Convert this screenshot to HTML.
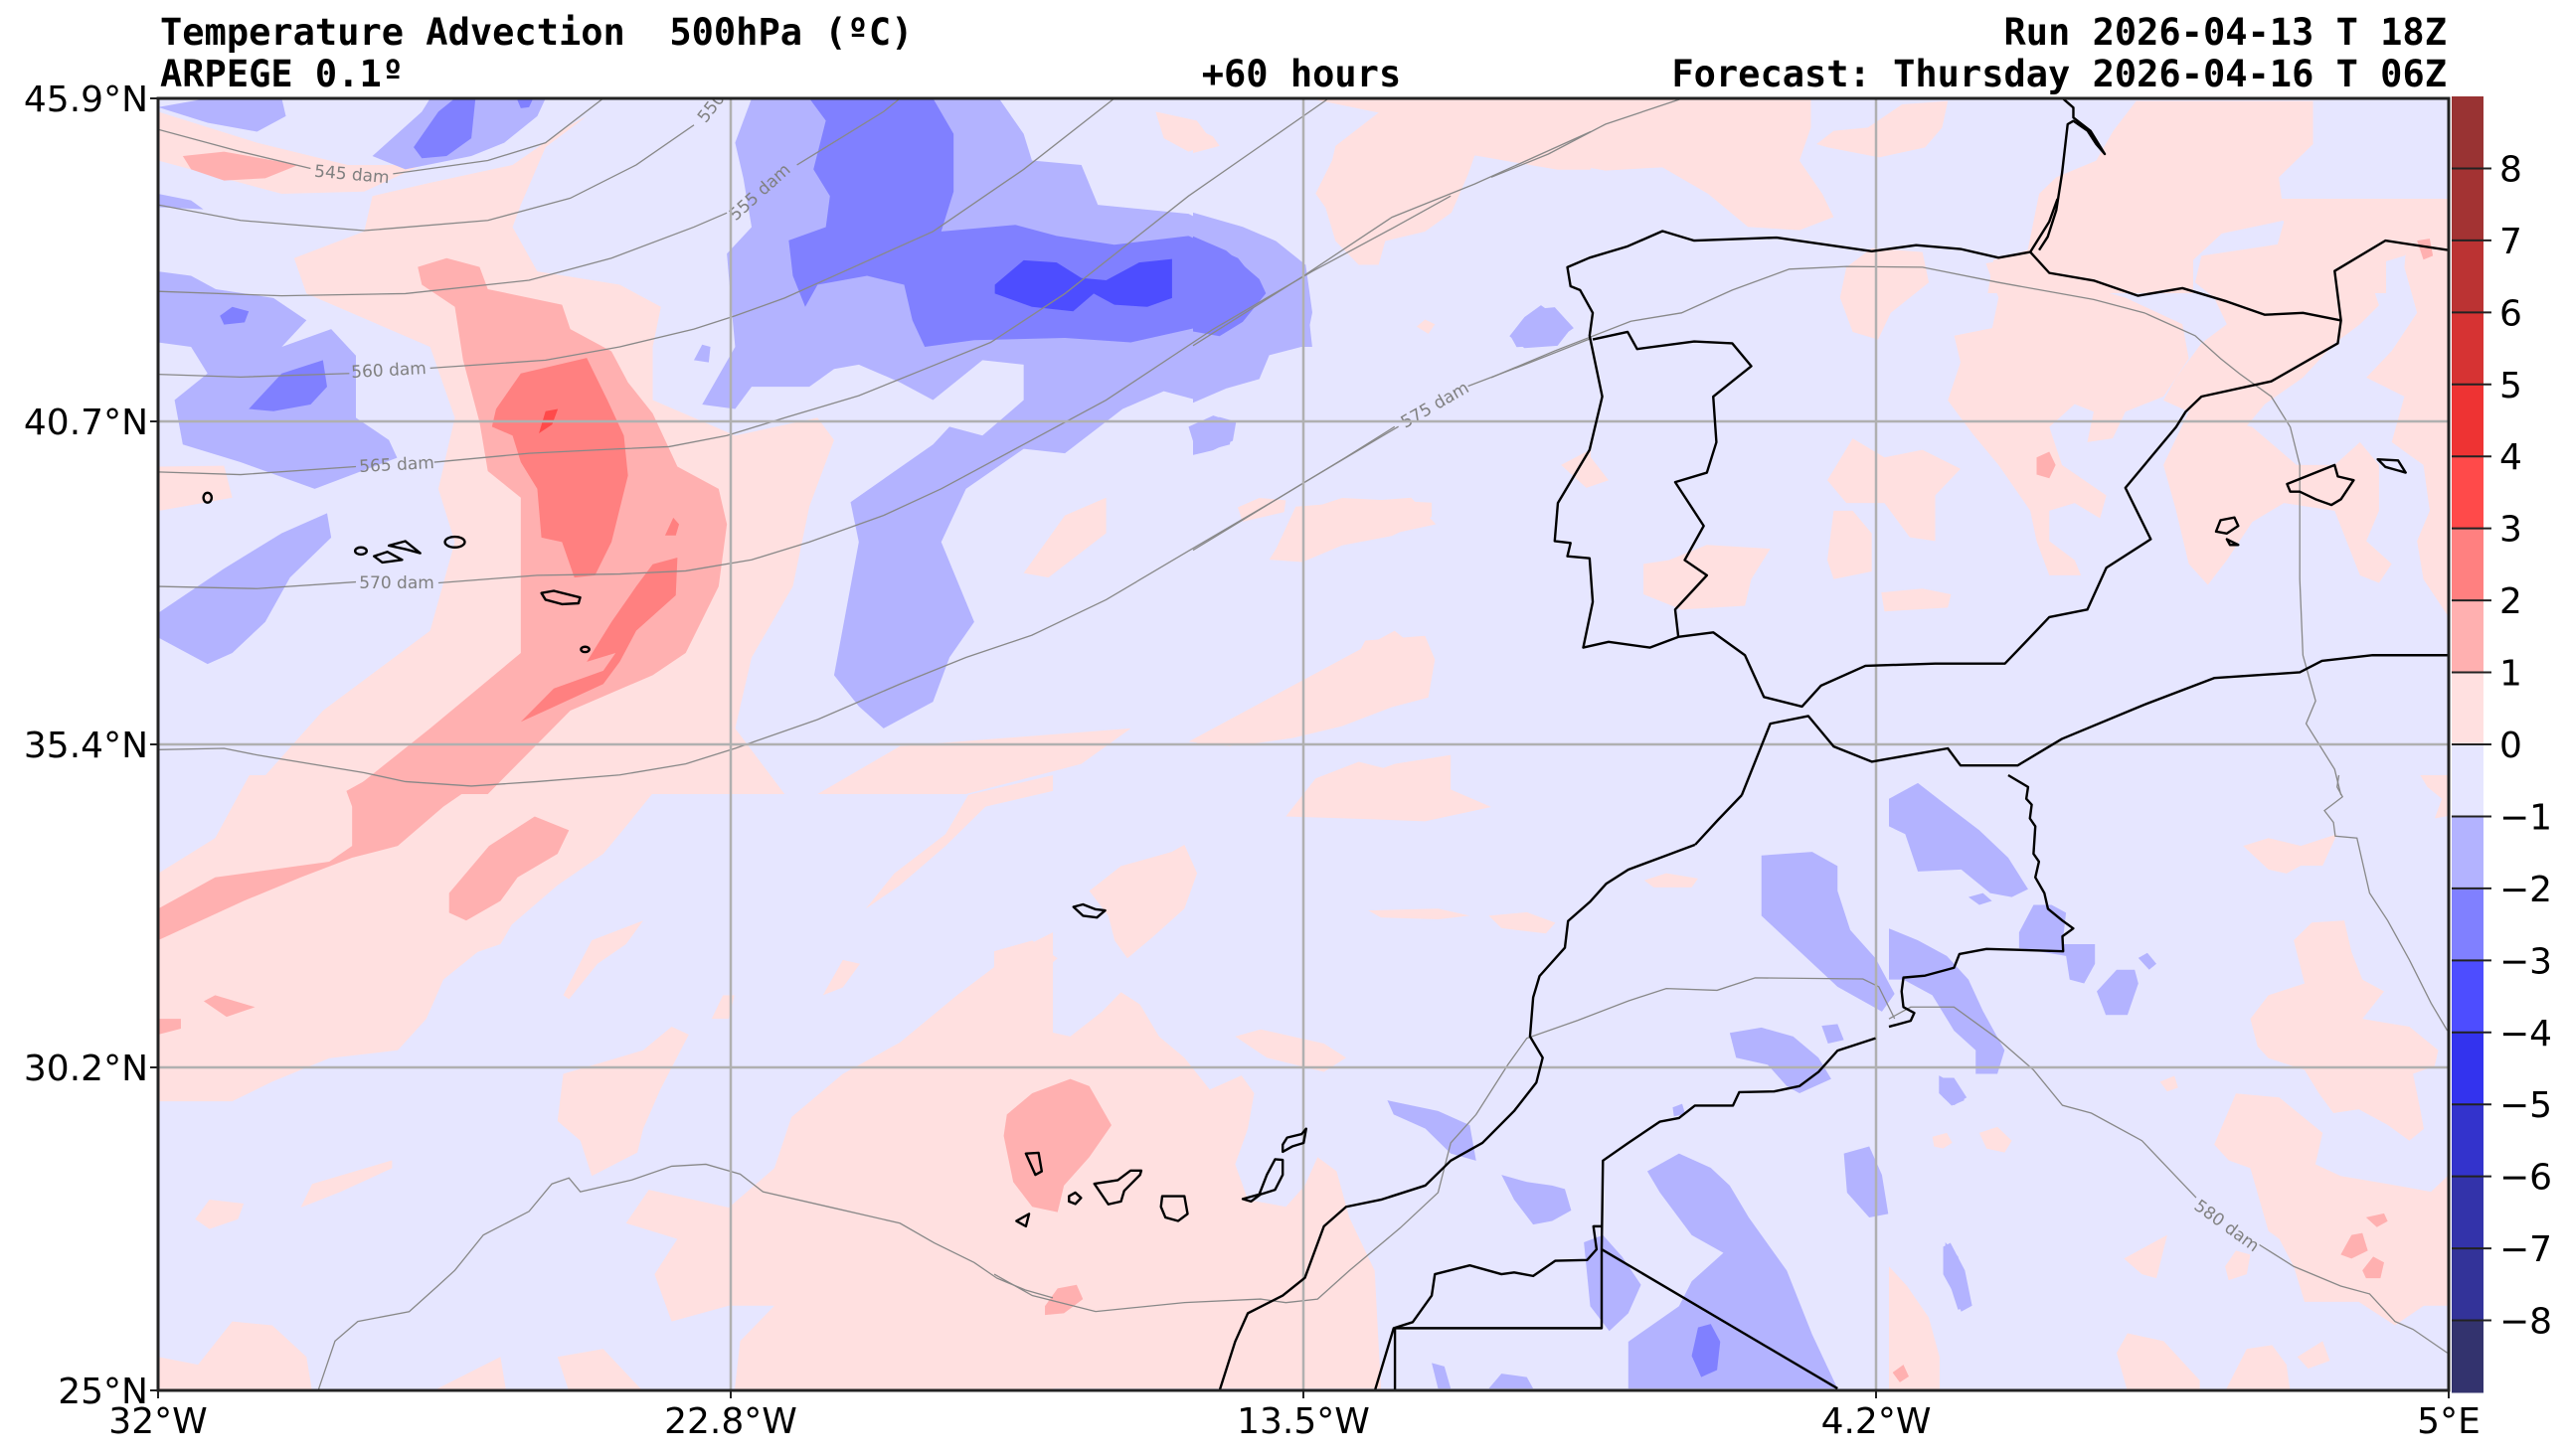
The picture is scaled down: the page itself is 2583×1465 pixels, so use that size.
<!DOCTYPE html>
<html><head><meta charset="utf-8"><style>
html,body{margin:0;padding:0;background:#fff;}
svg{display:block;}
.p1{fill:#ffe0e0}.p2{fill:#ffb0b0}.p3{fill:#ff8080}.p4{fill:#ff4a4a}
.n1{fill:#b3b3ff}.n2{fill:#8080ff}.n3{fill:#4d4dff}
.cl{fill:none;stroke:#888;stroke-width:1.3}
.cs{fill:none;stroke:#000;stroke-width:2.4;stroke-linejoin:round}
.isl{fill:none;stroke:#000;stroke-width:2.4;stroke-linejoin:round}
.lab{font-family:"DejaVu Sans","Liberation Sans",sans-serif;font-size:17px;fill:#808080}
text{font-family:"DejaVu Sans","Liberation Sans",sans-serif}
.tt{white-space:pre}
</style></head><body>
<svg id="chart" width="2583" height="1465" viewBox="0 0 2583 1465" xmlns="http://www.w3.org/2000/svg">
<defs><clipPath id="pc"><rect x="159" y="99" width="2304" height="1300"/></clipPath></defs>
<g id="titles" font-weight="bold" font-size="37">
<text class="tt" x="161" y="45" style="font-family:'DejaVu Sans Mono','Liberation Mono',monospace">Temperature Advection &#160;500hPa (ºC)</text>
<text x="161" y="87" style="font-family:'DejaVu Sans Mono','Liberation Mono',monospace">ARPEGE 0.1º</text>
<text x="1309" y="87" text-anchor="middle" style="font-family:'DejaVu Sans Mono','Liberation Mono',monospace">+60 hours</text>
<text x="2461" y="45" text-anchor="end" style="font-family:'DejaVu Sans Mono','Liberation Mono',monospace">Run 2026-04-13 T 18Z</text>
<text x="2461" y="87" text-anchor="end" style="font-family:'DejaVu Sans Mono','Liberation Mono',monospace">Forecast: Thursday 2026-04-16 T 06Z</text>
</g>
<g clip-path="url(#pc)">
<rect x="159" y="99" width="2304" height="1300" fill="#e6e6ff"/>
<g>
<g transform="translate(159,99) scale(0.8292,0.4464)" class="p1">
<polygon points="110,1568 200,1380 330,1200 360,1000 340,880 360,720 330,560 180,440 165,360 250,300 260,220 330,190 430,150 500,60 520,40 470,110 440,240 430,290 460,390 560,420 610,470 600,560 600,680 700,760 800,720 820,770 790,920 770,1100 720,1260 700,1420 760,1568"/>
<polygon points="0,30 120,100 230,150 320,150 250,210 150,215 60,170 0,140"/>
<polygon points="0,830 80,828 90,900 0,930"/>
<polygon points="1210,30 1260,50 1280,100 1250,120 1220,90"/>
<polygon points="1050,1070 1100,940 1150,900 1150,980 1080,1080"/>
<polygon points="1350,1040 1380,920 1520,900 1550,960 1450,1000"/>
<polygon points="1250,1450 1400,1300 1500,1200 1540,1260 1450,1400 1300,1460"/>
<polygon points="800,1568 900,1460 1180,1420 1120,1500 980,1568"/>
<polygon points="1400,1568 1500,1500 1568,1480 1568,1568"/>
</g>
<g transform="translate(159,780) scale(0.5740,0.3954)" class="p1">
<polygon points="0,250 100,160 160,0 920,0 870,40 820,130 780,200 700,280 620,380 600,430 560,450 500,520 470,620 420,700 300,720 200,780 130,830 0,830"/>
<polygon points="820,1140 860,1055 1000,1100 1080,1000 1110,870 1200,760 1300,680 1400,560 1500,450 1568,400 1568,1568 1010,1568 1020,1440 1080,1350 1000,1350 900,1390 870,1270 910,1180"/>
<polygon points="700,880 710,760 850,700 900,640 930,660 880,800 850,900 840,960 760,1020 740,930"/>
<polygon points="250,1100 270,1040 410,980 410,1000 320,1060"/>
<polygon points="65,1130 90,1080 150,1090 140,1130 90,1155"/>
<polygon points="0,1480 70,1500 130,1390 200,1400 260,1480 270,1568 0,1568"/>
<polygon points="1240,340 1290,250 1380,150 1420,50 1568,0 1568,40 1450,80 1380,180 1300,280"/>
<polygon points="1165,560 1200,470 1230,480 1200,540"/>
<polygon points="710,560 760,420 850,370 820,430 770,480 720,570"/>
<polygon points="480,1568 600,1480 610,1568"/>
<polygon points="700,1480 780,1460 850,1568 720,1568"/>
<polygon points="970,620 990,560 1010,560 1000,620"/>
</g>
<g transform="translate(1000,850) scale(0.6378,0.3571)" class="p1">
<polygon points="0,650 30,560 70,520 120,540 170,470 200,415 230,450 260,540 300,600 340,690 390,650 410,700 400,800 380,900 400,1000 460,1020 490,960 510,880 540,920 560,1050 600,1200 610,1532 0,1532"/>
<polygon points="0,300 60,270 100,320 60,380 0,420"/>
<polygon points="150,130 200,60 280,20 300,0 320,80 300,180 250,260 210,320 190,270 180,200"/>
<polygon points="380,540 420,520 520,560 555,600 520,640 430,600"/>
<polygon points="590,185 700,180 750,200 700,210 610,205"/>
<polygon points="780,200 840,190 885,220 870,250 800,235"/>
<polygon points="1025,100 1060,80 1110,95 1100,120 1040,120"/>
</g>
<g transform="translate(1200,99) scale(0.3333,0.4785)" class="p1">
<polygon points="370,200 420,130 430,100 560,30 350,0 1200,0 1200,150 1100,150 850,120 830,160 780,240 700,280 580,300 560,350 500,350 430,300 400,230"/>
<polygon points="0,60 60,80 80,100 0,115"/>
<polygon points="230,970 320,870 450,840 720,850 720,880 600,920 450,940 330,975"/>
<polygon points="135,860 200,840 280,845 275,870 150,890"/>
<polygon points="0,1360 120,1310 300,1270 450,1230 520,1140 700,1130 730,1180 710,1260 600,1280 450,1320 300,1345 150,1360"/>
<polygon points="280,1510 370,1430 500,1395 700,1430 900,1490 700,1520 500,1515"/>
<polygon points="675,480 700,465 730,475 710,495"/>
<polygon points="1115,770 1200,740 1200,800 1140,790"/>
</g>
<g transform="translate(1500,95) scale(0.5740,0.3333)" class="p1">
<polygon points="0,0 560,0 560,100 540,200 580,300 600,370 540,410 450,400 380,300 300,220 200,230 100,200 0,190"/>
<polygon points="570,150 600,110 660,100 720,30 800,20 790,100 760,160 680,190 590,160"/>
<polygon points="940,470 960,300 990,250 1060,200 1090,110 1130,20 1440,20 1440,150 1380,250 1390,380 1280,420 1230,500 1230,600 870,600 880,500"/>
<polygon points="1520,400 1568,380 1568,600 1500,600 1480,550 1520,470"/>
</g>
<g transform="translate(1500,200) scale(0.6378,0.3827)" class="p1">
<polygon points="560,180 600,130 680,140 690,220 630,300 610,370 570,350 550,260"/>
<polygon points="780,170 850,150 870,200 1000,260 1090,330 1100,420 1060,520 1000,560 980,630 940,640 950,560 920,540 880,600 900,700 970,780 960,840 920,800 880,820 880,900 920,950 930,990 880,990 860,900 850,820 800,700 760,620 720,530 740,430 730,360 790,340 800,260"/>
<polygon points="840,0 1210,0 1250,60 1240,120 1120,150 1110,220 1140,260 1160,330 1120,380 1080,470 1060,530 1100,560 1190,600 1220,540 1280,470 1330,380 1370,330 1400,280 1380,180 1440,150 1480,80 1510,0"/>
<polygon points="1060,700 1100,560 1200,600 1270,700 1330,700 1370,640 1400,700 1400,820 1380,900 1420,960 1400,1010 1370,990 1330,820 1250,800 1200,850 1160,950 1130,1015 1100,960 1080,820"/>
<polygon points="1450,0 1568,0 1568,1100 1510,1100 1470,1000 1460,900 1480,820 1470,700 1420,640 1440,520 1380,470 1420,400 1460,300 1440,180"/>
<polygon points="530,740 570,630 620,680 680,660 740,710 700,780 700,900 660,890 620,800 560,800"/>
<polygon points="240,960 280,950 340,910 440,920 410,1000 400,1070 300,1080 240,1040"/>
<polygon points="110,700 150,665 185,740 150,760"/>
<polygon points="540,820 570,820 600,880 600,980 540,1000 530,950"/>
<polygon points="615,1035 680,1025 725,1040 720,1075 620,1085"/>
</g>
<g transform="translate(1900,780) scale(0.3635,0.3954)" class="p1">
<polygon points="1000,620 1050,560 1150,530 1120,420 1170,375 1260,370 1280,450 1310,520 1370,550 1310,620 1440,640 1520,700 1510,740 1450,760 1470,850 1480,900 1440,930 1380,890 1300,850 1230,860 1190,810 1150,750 1050,720 1020,690"/>
<polygon points="980,180 1050,160 1140,180 1240,150 1200,230 1140,230 1100,250 1050,240"/>
<polygon points="900,940 960,810 1080,820 1200,910 1180,990 1250,1020 1380,1040 1500,1060 1568,1000 1568,1350 1480,1350 1400,1400 1300,1340 1150,1340 1120,1250 1080,1180 1050,1160 1000,1000 940,980"/>
<polygon points="650,1230 770,1170 740,1280 700,1270"/>
<polygon points="930,1250 960,1210 1000,1220 990,1270 940,1285"/>
<polygon points="630,1470 660,1420 760,1440 860,1540 860,1568 660,1568"/>
<polygon points="930,1568 990,1460 1060,1450 1100,1500 1110,1568"/>
<polygon points="1130,1480 1200,1440 1220,1490 1160,1510"/>
<polygon points="0,1250 50,1300 110,1380 140,1480 140,1568 0,1568"/>
<polygon points="250,910 300,895 340,930 320,960 270,950"/>
<polygon points="120,920 160,910 175,935 150,950 125,945"/>
<polygon points="750,780 790,765 800,795 770,805"/>
<polygon points="1470,0 1568,0 1568,100 1510,110 1530,60 1490,30"/>
</g>
</g>
<g class="p2">
<g transform="translate(159,99) scale(0.8292,0.4464)">
<polygon points="230,1568 330,1420 440,1250 440,1080 440,900 400,840 390,730 370,590 360,470 320,420 315,380 350,360 390,380 400,430 490,465 500,520 550,570 570,640 600,710 630,830 680,880 690,960 680,1100 640,1250 600,1300 500,1380 400,1568"/>
<polygon points="30,130 80,120 170,150 130,180 80,185 40,160"/>
</g>
<g transform="translate(159,780) scale(0.5740,0.3954)">
<polygon points="0,340 100,260 200,240 300,220 340,180 340,80 330,40 380,0 580,0 500,80 420,180 340,210 250,260 150,320 60,380 0,420"/>
<polygon points="510,300 580,180 660,105 720,140 700,200 630,260 600,320 540,370 510,350"/>
<polygon points="0,620 40,620 40,645 0,660"/>
<polygon points="80,575 100,560 170,590 120,615"/>
</g>
<g transform="translate(1000,850) scale(0.6378,0.3571)">
<polygon points="20,760 60,700 120,660 150,680 185,790 150,880 110,960 100,1035 60,1020 30,950 15,820"/>
<polygon points="80,1300 100,1250 130,1240 140,1280 110,1320 80,1325"/>
</g>
<g transform="translate(1500,200) scale(0.6378,0.3827)">
<polygon points="860,680 880,665 890,700 880,735 860,725"/>
<polygon points="1460,110 1480,105 1485,150 1470,160"/>
</g>
<g transform="translate(1900,780) scale(0.3635,0.3954)">
<polygon points="1250,1220 1280,1170 1310,1165 1325,1210 1280,1230"/>
<polygon points="1310,1260 1340,1225 1370,1240 1360,1280 1320,1280"/>
<polygon points="1320,1125 1370,1115 1380,1135 1350,1150"/>
<polygon points="10,1520 40,1500 55,1530 30,1545"/>
</g>
</g>
<g transform="translate(159,99) scale(0.8292,0.4464)">
<polygon class="p3" points="410,700 440,620 520,585 545,680 565,760 570,850 550,1000 530,1075 505,1080 490,1000 465,990 460,880 440,820 430,760 405,740"/>
<polygon class="p3" points="440,1405 480,1330 540,1290 555,1250 520,1270 550,1180 580,1100 600,1050 630,1035 628,1120 580,1200 560,1270 540,1320 470,1380"/>
<polygon class="p3" points="615,985 625,945 632,960 628,985"/>
<polygon class="p4" points="462,755 470,705 485,700 478,735"/>
</g>
<g class="n1">
<g transform="translate(159,99) scale(0.8292,0.4464)">
<polygon points="720,0 1020,0 1050,80 1060,140 1120,150 1140,240 1250,260 1390,390 1400,560 1340,560 1300,640 1260,680 1220,660 1170,700 1100,800 1050,790 980,880 950,1000 990,1180 960,1260 940,1360 880,1420 850,1370 820,1300 840,1100 850,1000 840,910 940,780 960,740 1000,760 1050,680 1050,600 1000,590 940,680 900,640 850,600 820,610 790,650 720,650 700,700 660,690 700,560 695,460 690,350 720,290 710,180 700,100"/>
<polygon points="0,390 40,400 70,430 140,450 180,500 150,560 210,520 240,580 240,720 280,770 290,810 190,880 100,820 30,780 20,680 60,620 40,560 0,550"/>
<polygon points="0,1160 80,1060 150,980 205,935 210,990 160,1080 130,1180 90,1250 60,1275 0,1215"/>
<polygon points="260,130 320,30 330,0 470,0 460,40 420,100 380,130 300,160"/>
<polygon points="0,20 60,0 150,0 155,40 120,75 60,55"/>
<polygon points="0,215 40,230 55,250 0,245"/>
<polygon points="1250,740 1280,715 1305,730 1300,780 1260,800"/>
<polygon points="650,590 660,555 670,560 668,595"/>
</g>
<g transform="translate(1200,99) scale(0.3333,0.4785)">
<polygon points="0,240 150,270 250,300 340,350 360,450 340,520 230,540 200,590 100,610 0,640"/>
<polygon points="0,700 80,670 130,680 120,720 60,740 0,750"/>
<polygon points="955,500 1000,460 1050,435 1100,460 1145,480 1100,520 1000,525"/>
</g>
<g transform="translate(1500,200) scale(0.6378,0.3827)">
<polygon points="30,360 70,290 100,285 130,340 90,385 40,390"/>
</g>
<g transform="translate(1000,850) scale(0.6378,0.3571)">
<polygon points="1210,30 1290,20 1330,60 1330,130 1350,240 1390,320 1420,420 1400,470 1330,400 1270,300 1210,200"/>
<polygon points="1160,530 1210,515 1260,540 1300,600 1320,660 1270,700 1250,680 1220,620 1170,600"/>
<polygon points="620,720 700,750 750,790 760,890 720,870 680,800 630,760"/>
<polygon points="800,930 840,950 880,960 900,970 910,1030 880,1060 850,1070 820,1000"/>
<polygon points="1030,920 1080,870 1130,910 1160,960 1190,1050 1250,1200 1290,1380 1330,1532 1000,1532 1000,1400 1080,1300 1100,1230 1150,1150 1100,1100 1050,980"/>
<polygon points="930,1120 960,1100 990,1160 1020,1240 1000,1320 970,1370 940,1300"/>
<polygon points="1340,870 1380,850 1400,930 1410,1040 1380,1050 1345,980"/>
<polygon points="1490,650 1520,680 1530,720 1510,735 1490,700"/>
<polygon points="1500,1120 1520,1160 1540,1300 1520,1310 1500,1200"/>
<polygon points="1305,510 1330,505 1340,550 1315,560"/>
<polygon points="690,1460 710,1470 720,1532 700,1532"/>
<polygon points="780,1532 800,1490 840,1500 850,1532"/>
<polygon points="1070,740 1085,730 1090,760 1072,765"/>
</g>
<g transform="translate(1900,780) scale(0.3635,0.3954)">
<polygon points="0,60 80,20 150,70 250,140 330,210 385,290 340,310 280,300 200,240 80,245 45,150 0,130"/>
<polygon points="0,390 80,420 160,460 220,520 260,600 320,700 300,760 240,760 240,700 180,650 120,560 40,520 0,520"/>
<polygon points="360,400 400,330 450,330 490,350 480,430 570,430 570,480 540,530 500,520 490,460 360,440"/>
<polygon points="575,550 630,495 680,495 690,530 660,610 600,610"/>
<polygon points="690,465 715,452 740,480 720,495"/>
<polygon points="140,770 180,770 215,820 180,840 150,820"/>
<polygon points="150,1200 170,1190 210,1260 230,1350 200,1365 180,1320 150,1270"/>
<polygon points="220,310 260,300 285,320 250,330"/>
</g>
</g>
<g class="n2">
<g transform="translate(159,99) scale(0.8292,0.4464)">
<polygon points="790,0 940,0 965,80 965,210 950,300 1040,285 1090,310 1160,330 1250,310 1310,360 1340,430 1300,500 1180,550 1100,540 990,545 930,560 915,500 905,420 860,400 800,420 785,470 770,400 765,320 810,290 815,220 795,160 810,50"/>
<polygon points="110,700 150,620 200,590 205,650 185,690 140,705"/>
<polygon points="75,490 90,470 110,480 105,505 80,510"/>
<polygon points="310,110 340,30 360,0 385,0 380,90 350,130 320,135"/>
<polygon points="435,0 455,0 450,20 440,22"/>
</g>
<g transform="translate(1200,99) scale(0.3333,0.4785)">
<polygon points="0,290 100,320 200,380 220,410 150,470 80,500 0,490"/>
</g>
<g transform="translate(1000,850) scale(0.6378,0.3571)">
<polygon points="1110,1360 1130,1350 1145,1400 1140,1480 1115,1500 1100,1440"/>
</g>
</g>
<g class="n3" transform="translate(159,99) scale(0.8292,0.4464)">
<polygon points="1015,420 1050,365 1090,370 1120,405 1150,410 1190,370 1230,362 1230,450 1200,470 1160,465 1135,440 1110,480 1060,470 1015,440"/>
</g>
<g>
<g transform="translate(159,99) scale(0.8292,0.4464)">
<polyline class="cl" vector-effect="non-scaling-stroke" points="0,70 100,120 185,158"/>
<polyline class="cl" vector-effect="non-scaling-stroke" points="285,170 400,140 470,100 540,0"/>
<polyline class="cl" vector-effect="non-scaling-stroke" points="0,240 100,275 250,298 400,275 500,225 580,150 650,60"/>
<polyline class="cl" vector-effect="non-scaling-stroke" points="0,435 150,445 300,440 450,410 550,360 650,290 690,258"/>
<polyline class="cl" vector-effect="non-scaling-stroke" points="775,150 880,30 900,0"/>
<polyline class="cl" vector-effect="non-scaling-stroke" points="0,622 100,628 232,620"/>
<polyline class="cl" vector-effect="non-scaling-stroke" points="330,608 470,590 560,560 650,520 700,490 760,450 820,400 940,300 1050,160 1160,0"/>
<polyline class="cl" vector-effect="non-scaling-stroke" points="0,842 100,848 240,830"/>
<polyline class="cl" vector-effect="non-scaling-stroke" points="335,820 450,800 560,790 620,785 690,760 760,720 850,670 930,610 1010,550 1100,440 1250,220 1420,0"/>
<polyline class="cl" vector-effect="non-scaling-stroke" points="0,1100 120,1105 240,1090"/>
<polyline class="cl" vector-effect="non-scaling-stroke" points="340,1092 460,1075 560,1072 640,1065 720,1040 790,1000 880,940 950,880 1050,780 1150,680 1280,520 1400,390 1500,290 1568,220"/>
<polyline class="cl" vector-effect="non-scaling-stroke" points="0,1468 80,1465 120,1480 250,1520 300,1540 380,1550 460,1540 560,1525 640,1500 700,1465 800,1400 900,1320 980,1260 1060,1210 1150,1130 1250,1020 1360,900 1440,810 1500,740"/>
</g>
<g transform="translate(1200,99) scale(0.3333,0.4785)">
<polyline class="cl" vector-effect="non-scaling-stroke" points="0,520 330,375 600,250 850,180 1200,70"/>
<polyline class="cl" vector-effect="non-scaling-stroke" points="0,950 330,810 620,690"/>
<polyline class="cl" vector-effect="non-scaling-stroke" points="830,605 1000,560 1200,505"/>
</g>
<g transform="translate(1500,95) scale(0.5740,0.3333)">
<polyline class="cl" vector-effect="non-scaling-stroke" points="0,250 100,180 200,90 330,15"/>
</g>
<g transform="translate(1500,200) scale(0.6378,0.3827)">
<polyline class="cl" vector-effect="non-scaling-stroke" points="0,470 100,400 220,322 300,300 380,240 470,185 560,178 680,180 800,220 950,265 1030,300 1110,360 1150,420 1180,460 1230,520 1260,600 1275,700 1275,1000 1280,1200 1300,1320 1285,1380 1330,1500 1340,1568"/>
</g>
<g transform="translate(1900,780) scale(0.3635,0.3954)">
<polyline class="cl" vector-effect="non-scaling-stroke" points="1245,0 1240,30 1255,55 1205,90 1230,120 1235,155 1295,160 1330,300 1380,370 1440,470 1500,580 1545,650"/>
<polyline class="cl" vector-effect="non-scaling-stroke" points="0,620 60,590 180,590 300,670 400,750 480,840 560,860 700,930 850,1075"/>
<polyline class="cl" vector-effect="non-scaling-stroke" points="1025,1195 1120,1250 1250,1300 1330,1320 1400,1390 1450,1410 1545,1470"/>
</g>
<g transform="translate(1000,850) scale(0.6378,0.3571)">
<polyline class="cl" vector-effect="non-scaling-stroke" points="1420,490 1395,400 1370,378 1200,375 1140,410 1060,405 1000,440 920,495 840,545 810,620 760,760 720,840 700,980 640,1080 560,1200 510,1280 460,1290 420,1280 300,1290 160,1315 60,1270 0,1210"/>
</g>
<g transform="translate(159,780) scale(0.5740,0.3954)">
<polyline class="cl" vector-effect="non-scaling-stroke" points="280,1568 310,1440 350,1390 440,1365 490,1300 520,1260 570,1170 650,1110 690,1040 720,1025 740,1060 830,1030 900,995 960,990 1020,1015 1060,1060 1180,1100 1300,1140 1360,1190 1430,1240 1470,1280 1520,1310 1568,1330"/>
</g>
<text class="lab" x="354" y="181" text-anchor="middle" transform="rotate(5,354,175)">545 dam</text>
<text class="lab" x="715" y="114" text-anchor="middle" transform="rotate(-52,715,108)">550</text>
<text class="lab" x="764" y="199" text-anchor="middle" transform="rotate(-42,764,193)">555 dam</text>
<text class="lab" x="391" y="378" text-anchor="middle" transform="rotate(-3,391,372)">560 dam</text>
<text class="lab" x="399" y="473" text-anchor="middle" transform="rotate(-3,399,467)">565 dam</text>
<text class="lab" x="399" y="592" text-anchor="middle">570 dam</text>
<text class="lab" x="1443" y="413" text-anchor="middle" transform="rotate(-30,1443,407)">575 dam</text>
<text class="lab" x="2240" y="1239" text-anchor="middle" transform="rotate(36,2240,1233)">580 dam</text>
</g>
<g id="grid"></g>
<g>
<polyline class="cs" points="1752,800 1728,825 1705,850"/>
<g transform="translate(1500,200) scale(0.6378,0.3827)">
<polyline class="cs" vector-effect="non-scaling-stroke" points="850,140 880,60 893,0"/>
<polyline class="cs" vector-effect="non-scaling-stroke" points="850,140 800,155 740,132 670,122 600,138 450,102 320,110 270,85 215,125 155,155 120,180 125,230 140,240 150,270 160,300 155,360 160,400 175,520 155,660 105,800 100,900 125,905 120,940 155,945 160,1060 145,1180 185,1165 250,1180 295,1152 350,1140 400,1200 430,1310 490,1335 520,1280 590,1228 700,1222 810,1222 840,1170 880,1100 940,1080 970,970 1040,895 1000,760 1080,600 1095,560 1120,520 1230,480 1335,380 1340,320 1330,190 1410,110 1510,135"/>
<polyline class="cs" vector-effect="non-scaling-stroke" points="850,140 880,195 950,215 1020,255 1090,235 1160,270 1220,305 1280,300 1340,320"/>
<polyline class="cs" vector-effect="non-scaling-stroke" points="160,370 215,350 230,395 320,375 380,380 410,440 350,520 355,640 340,720 290,745 335,860 305,950 340,990 290,1080 295,1152"/>
<polyline class="cs" vector-effect="non-scaling-stroke" points="395,1568 440,1380 500,1360 540,1440 600,1480 720,1445 740,1490 830,1490 900,1420 1030,1330 1140,1260 1275,1245 1310,1215 1390,1200 1510,1200"/>
<polygon class="isl" vector-effect="non-scaling-stroke" points="1255,750 1300,720 1330,700 1335,730 1360,740 1340,790 1325,805 1300,790 1275,770 1260,770"/>
<polygon class="isl" vector-effect="non-scaling-stroke" points="1398,685 1430,688 1442,720 1410,705"/>
<polygon class="isl" vector-effect="non-scaling-stroke" points="1143,875 1150,845 1172,838 1178,860 1160,880"/>
<polygon class="isl" vector-effect="non-scaling-stroke" points="1160,895 1165,910 1178,910"/>
</g>
<g transform="translate(1500,95) scale(0.5740,0.3333)">
<polyline class="cs" vector-effect="non-scaling-stroke" points="960,470 975,430 990,350 1000,240 1010,90 1020,80 1045,110 1060,150 1075,180 1050,110 1020,70 1020,40 1000,10"/>
</g>
<g transform="translate(1900,780) scale(0.3635,0.3954)">
<polyline class="cs" vector-effect="non-scaling-stroke" points="330,0 385,30 380,60 395,75 390,110 405,130 400,200 415,220 405,260 430,300 440,340 480,370 510,390 480,410 482,448 270,442 195,455 180,490 100,510 40,515 35,550 40,590 70,605 60,625 0,640"/>
</g>
<g transform="translate(1000,850) scale(0.6378,0.3571)">
<polyline class="cs" vector-effect="non-scaling-stroke" points="1105,0 1060,30 1000,70 965,110 940,160 905,215 900,290 860,370 850,430 845,540 865,600 855,670 820,750 770,840 720,890 680,960 610,1000 555,1020 520,1075 490,1220 455,1270 400,1320 380,1400 355,1540"/>
<polyline class="cs" vector-effect="non-scaling-stroke" points="1390,545 1330,580 1300,640 1270,680 1230,695 1175,697 1165,735 1105,735 1080,770 1050,780 1000,840 960,890 958,1140 958,1362 632,1362 632,1540"/>
<polyline class="cs" vector-effect="non-scaling-stroke" points="958,1140 1330,1532"/>
<polyline class="cs" vector-effect="non-scaling-stroke" points="600,1540 630,1362 660,1345 690,1270 695,1210 750,1185 800,1210 820,1205 850,1215 885,1172 935,1170 950,1140 945,1075 958,1075"/>
<polygon class="isl" vector-effect="non-scaling-stroke" points="50,870 70,868 75,920 65,930"/>
<polygon class="isl" vector-effect="non-scaling-stroke" points="35,1060 55,1040 50,1075"/>
<polygon class="isl" vector-effect="non-scaling-stroke" points="118,990 128,980 137,995 128,1012 118,1005"/>
<polygon class="isl" vector-effect="non-scaling-stroke" points="158,955 195,945 215,918 232,918 230,930 205,975 200,1005 180,1013"/>
<polygon class="isl" vector-effect="non-scaling-stroke" points="265,990 300,990 305,1040 290,1060 270,1050 263,1020"/>
<polygon class="isl" vector-effect="non-scaling-stroke" points="392,998 405,1005 420,985 443,972 455,930 455,888 443,886 430,930 418,985"/>
<polygon class="isl" vector-effect="non-scaling-stroke" points="455,865 470,850 488,840 492,800 485,815 462,825 455,845"/>
<polygon class="isl" vector-effect="non-scaling-stroke" points="125,175 140,168 160,182 175,185 162,205 140,200"/>
</g>
<g transform="translate(159,99) scale(0.8292,0.4464)">
<ellipse class="isl" vector-effect="non-scaling-stroke" cx="60" cy="900" rx="5" ry="11"/>
<ellipse class="isl" vector-effect="non-scaling-stroke" cx="246" cy="1020" rx="7" ry="8"/>
<polygon class="isl" vector-effect="non-scaling-stroke" points="262,1032 278,1022 296,1040 272,1046"/>
<polygon class="isl" vector-effect="non-scaling-stroke" points="280,1008 300,998 318,1025 300,1016"/>
<ellipse class="isl" vector-effect="non-scaling-stroke" cx="360" cy="1000" rx="12" ry="12"/>
<polygon class="isl" vector-effect="non-scaling-stroke" points="465,1115 480,1110 512,1125 510,1138 490,1140 470,1130"/>
<ellipse class="isl" vector-effect="non-scaling-stroke" cx="518" cy="1242" rx="5" ry="6"/>
</g>
</g>
</g>
<rect x="159" y="99" width="2304" height="1300" fill="none" stroke="#222" stroke-width="3"/>
<g id="axes"></g>
<g id="colorbar"></g>
</svg>
<script>
var lonTicks = ["32°W","22.8°W","13.5°W","4.2°W","5°E"];
var latTicks = ["45.9°N","40.7°N","35.4°N","30.2°N","25°N"];
var cbLevels = [-9,-8,-7,-6,-5,-4,-3,-2,-1,0,1,2,3,4,5,6,7,8,9];
var cbColors = ["#33336e","#333399","#3333aa","#3333cc","#3333ee","#4d4dff","#8080ff","#b3b3ff","#e6e6ff","#ffe0e0","#ffb0b0","#ff8080","#ff4a4a","#ee3333","#d63333","#bb3333","#a33333","#993333"];
var cbTicks = [-8,-7,-6,-5,-4,-3,-2,-1,0,1,2,3,4,5,6,7,8];
var NS = "http://www.w3.org/2000/svg";
var X0 = 159, X1 = 2463, Y0 = 99, Y1 = 1399;
function xPos(i){ return X0 + (X1 - X0) * i / (lonTicks.length - 1); }
function yPos(i){ return Y0 + (Y1 - Y0) * i / (latTicks.length - 1); }
var CB_TOP = 97, CB_BOT = 1401, CBX = 2466, CBW = 32;
function cbY(v){ return CB_BOT - (v - cbLevels[0]) / (cbLevels[cbLevels.length-1] - cbLevels[0]) * (CB_BOT - CB_TOP); }
function mk(tag, attrs, parent){ var e = document.createElementNS(NS, tag); for (var k in attrs) e.setAttribute(k, attrs[k]); parent.appendChild(e); return e; }
var grid = document.getElementById('grid'), axes = document.getElementById('axes'), cb = document.getElementById('colorbar');
lonTicks.forEach(function(t, i){
  var x = xPos(i);
  if (i > 0 && i < lonTicks.length - 1) {
    var g = mk('line', {x1:x, x2:x, y1:Y0, y2:Y1, stroke:'#b0b0b0', 'stroke-width':2.5}, grid);
    
    
  }
  var tk = mk('line', {x1:x, x2:x, y1:Y1, y2:Y1+8, stroke:'#222', 'stroke-width':2}, axes);
  
  
  var tx = mk('text', {x:x, y:1442, 'text-anchor':'middle', 'font-size':36, fill:'#000'}, axes);
  tx.textContent = t;
  
  
});
latTicks.forEach(function(t, i){
  var y = yPos(i);
  if (i > 0 && i < latTicks.length - 1) {
    var g = mk('line', {x1:X0, x2:X1, y1:y, y2:y, stroke:'#b0b0b0', 'stroke-width':2.5}, grid);
    
    
  }
  var tk = mk('line', {x1:X0-8, x2:X0, y1:y, y2:y, stroke:'#222', 'stroke-width':2}, axes);
  
  
  var tx = mk('text', {x:X0-10, y:y+13, 'text-anchor':'end', 'font-size':36, fill:'#000'}, axes);
  tx.textContent = t;
  
  
});
cbColors.forEach(function(c, i){
  var yt = cbY(cbLevels[i+1]), yb = cbY(cbLevels[i]);
  var r = mk('rect', {x:CBX, y:yt, width:CBW, height:yb-yt+0.5, fill:c}, cb);
  
  
});
cbTicks.forEach(function(v){
  var y = cbY(v);
  var l = mk('line', {x1:CBX, x2:CBX+CBW+8, y1:y, y2:y, stroke:'#222', 'stroke-width':2}, cb);
  
  
  var t = mk('text', {x:2514, y:y+13, 'font-size':36, fill:'#000'}, cb);
  t.textContent = v < 0 ? '\u2212' + Math.abs(v) : String(v);
  
  
});
</script>
</body></html>
